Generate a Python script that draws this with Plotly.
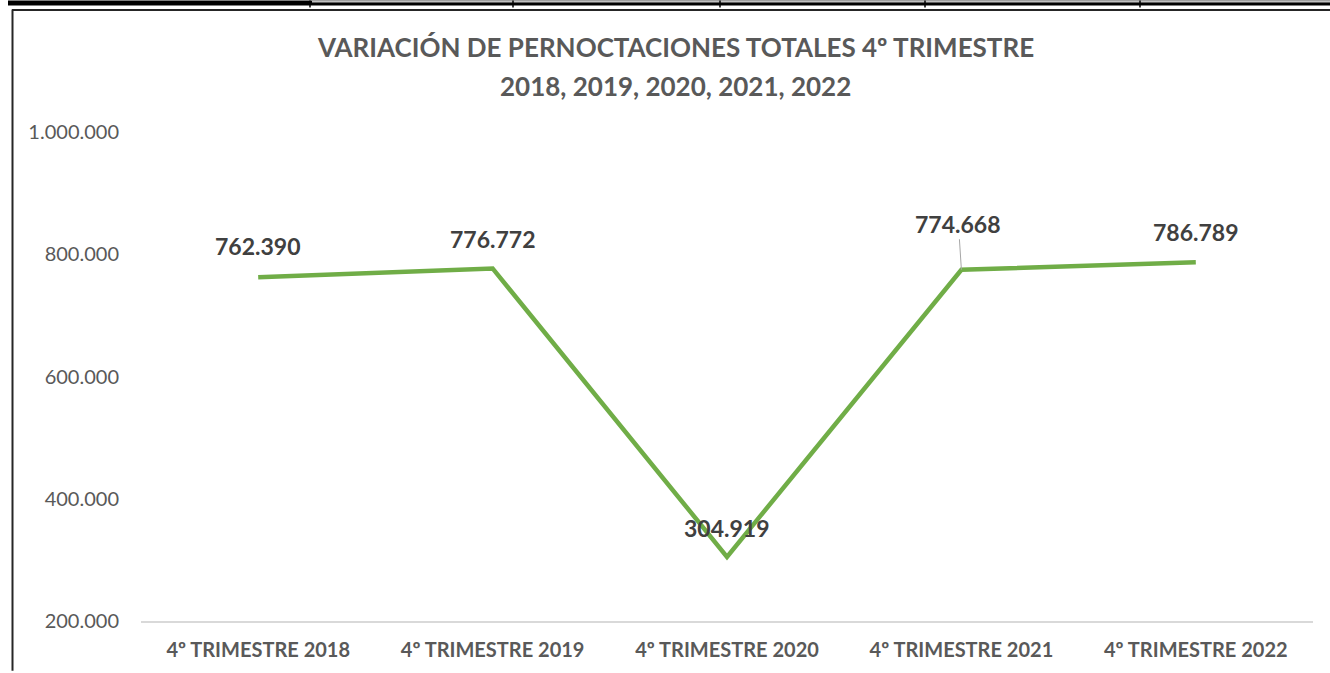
import plotly.graph_objects as go

categories = ["4º TRIMESTRE 2018", "4º TRIMESTRE 2019", "4º TRIMESTRE 2020",
              "4º TRIMESTRE 2021", "4º TRIMESTRE 2022"]
pernoctaciones = [762390, 776772, 304919, 774668, 786789]
label_offsets_y = [-31, -29, -29, -46, -30]
label_offsets_x = [0, 0, 0, -3, 0]
tick_values = [200000, 400000, 600000, 800000, 1000000]
title_lines = ["VARIACIÓN DE PERNOCTACIONES TOTALES 4º TRIMESTRE",
               "2018, 2019, 2020, 2021, 2022"]

W, H = 1330, 673
L, R, T, B = 141, 17, 132, 50
PW, PH = W - L - R, H - T - B
FONT = "Lato, 'Open Sans', sans-serif"

def px(x):
    return (x - L) / PW

def py(y):
    return (H - B - y) / PH

fig = go.Figure()
fig.add_trace(go.Scatter(
    x=categories, y=pernoctaciones, mode="lines",
    line=dict(color="#70AD47", width=4.5),
    hoverinfo="skip", showlegend=False,
))

def fmt(v):
    return f"{v:,}".replace(",", ".")

for c, v, ox, oy in zip(categories, pernoctaciones, label_offsets_x, label_offsets_y):
    leader = oy < -40
    fig.add_annotation(
        x=c, y=v, xref="x", yref="y", text=fmt(v),
        showarrow=leader, arrowhead=0, arrowwidth=1, arrowcolor="#A6A6A6",
        ax=ox, ay=oy, standoff=0, startstandoff=0,
        xshift=0 if leader else ox, yshift=0 if leader else -oy,
        font=dict(family=FONT, size=23, color="#404040", weight="bold"),
    )

for line_text, yc in zip(title_lines, [47, 86]):
    fig.add_annotation(
        x=px(675), y=py(yc), xref="paper", yref="paper", text=line_text,
        showarrow=False, xanchor="center", yanchor="middle",
        font=dict(family=FONT, size=26, color="#595959", weight="bold"),
    )

shapes = [
    dict(type="rect", xref="paper", yref="paper", x0=px(8), x1=px(1330), y0=py(0), y1=py(5),
         fillcolor="#000000", line=dict(width=0), layer="above"),
    dict(type="rect", xref="paper", yref="paper", x0=px(312), x1=px(1330), y0=py(0), y1=py(2),
         fillcolor="#BFBFBF", line=dict(width=0), layer="above"),
    dict(type="line", xref="paper", yref="paper", x0=px(12), x1=px(1330), y0=py(9.5), y1=py(9.5),
         line=dict(color="#262626", width=2), layer="above"),
    dict(type="line", xref="paper", yref="paper", x0=px(12.5), x1=px(12.5), y0=py(9), y1=py(673),
         line=dict(color="#262626", width=2), layer="above"),
]
for sx in [310, 513, 720, 925, 1140]:
    shapes.append(dict(type="line", xref="paper", yref="paper", x0=px(sx), x1=px(sx),
                       y0=py(0), y1=py(7), line=dict(color="#000000", width=1.5), layer="above"))

fig.update_layout(
    width=W, height=H, autosize=False,
    margin=dict(l=L, r=R, t=T, b=B, pad=0),
    paper_bgcolor="#FFFFFF", plot_bgcolor="#FFFFFF",
    separators=",.",
    shapes=shapes,
    xaxis=dict(
        type="category", range=[-0.5, 4.5], showgrid=False, zeroline=False,
        showline=True, linecolor="#D9D9D9", linewidth=1.5,
        ticks="outside", ticklen=10, tickcolor="rgba(0,0,0,0)",
        tickfont=dict(family=FONT, size=20, color="#595959", weight="bold"),
    ),
    yaxis=dict(
        range=[200000, 1000000], showgrid=False, zeroline=False, showline=False,
        tickmode="array", tickvals=tick_values, tickformat=",d",
        ticks="outside", ticklen=17, tickcolor="rgba(0,0,0,0)",
        tickfont=dict(family=FONT, size=20, color="#595959"),
    ),
)

fig.write_html("out.html", config={"displayModeBar": False},
               post_script="document.body.style.margin='0';")
